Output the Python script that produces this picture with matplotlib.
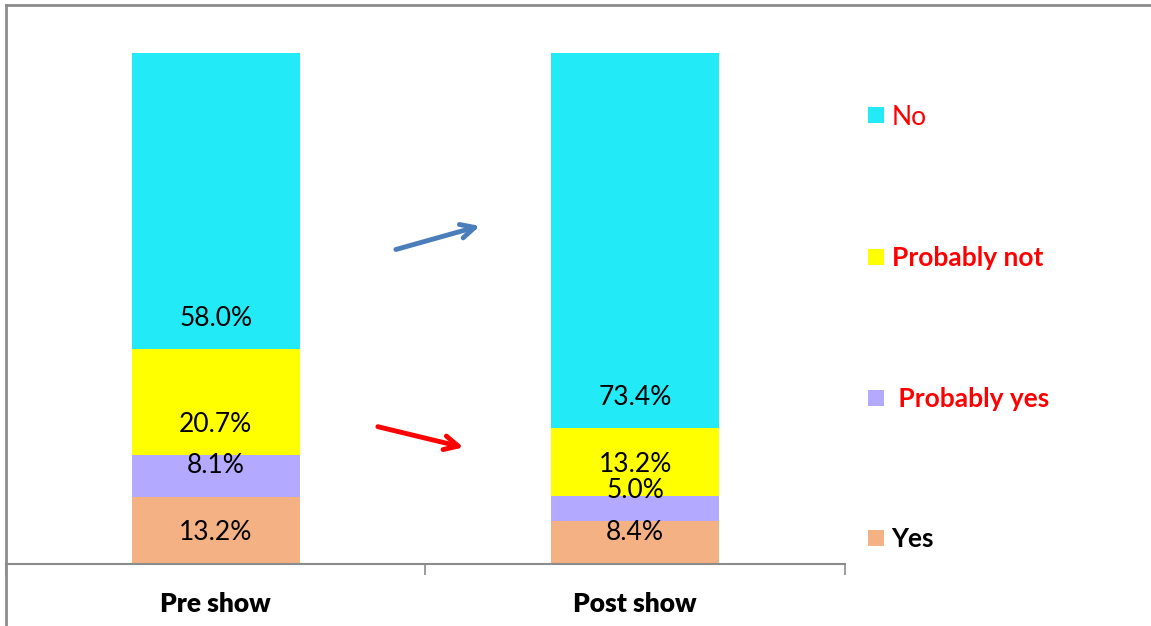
import matplotlib
matplotlib.use("Agg")
import matplotlib.pyplot as plt
from matplotlib.lines import Line2D
import numpy as np

plt.rcParams['font.family'] = ['Lato', 'DejaVu Sans']

groups = ["Pre show", "Post show"]
answers = ["Yes", "Probably yes", "Probably not", "No"]
pre_vals = [13.2, 8.1, 20.7, 58.0]
post_vals = [8.4, 5.0, 13.2, 73.4]
colors = ["#F4B183", "#B3AAFF", "#FFFF00", "#22EAF7"]
legend_labels = ["Yes", " Probably yes", "Probably not", "No"]
legend_colors = ["black", "red", "red", "red"]
legend_weights = ["bold", "bold", "bold", "normal"]

W, H = 1151, 626
fig = plt.figure(figsize=(W / 100, H / 100), dpi=100)
ax = fig.add_axes([6 / W, (H - 564) / H, (845 - 6) / W, (564 - 53) / H])

data = np.array([pre_vals, post_vals])
x = np.arange(len(groups))
bottom = np.zeros(len(groups))
for i, name in enumerate(answers):
    vals = data[:, i]
    ax.bar(x, vals, width=0.40, bottom=bottom, color=colors[i], label=name,
           linewidth=0)
    for xi, b, v in zip(x, bottom, vals):
        ax.annotate(f"{v:.1f}%", xy=(xi, b), xytext=(0, 31),
                    textcoords="offset pixels", ha="center", va="center",
                    fontsize=19, color="black")
    bottom += vals

ax.set_xlim(-0.5, 1.5)
ax.set_ylim(0, 100)
ax.set_xticks([-0.5, 0.5, 1.5])
ax.set_xticklabels([])
ax.set_xticks(x, minor=True)
ax.set_xticklabels(groups, minor=True, fontsize=19, fontweight="heavy")
ax.tick_params(axis="x", which="minor", length=0, pad=20)
ax.tick_params(axis="x", which="major", length=8, color="#8c8c8c", width=1.2)
ax.set_yticks([])
for s in ["top", "right", "left"]:
    ax.spines[s].set_visible(False)
ax.spines["bottom"].set_color("#8c8c8c")
ax.spines["bottom"].set_linewidth(1.5)

# arrows between the bars
ax.annotate("", xy=(0.636, 66.3), xytext=(0.423, 61.4),
            arrowprops=dict(arrowstyle="->,head_length=1.0,head_width=0.5",
                            color="#4A7EBB", lw=3.5))
ax.annotate("", xy=(0.597, 22.7), xytext=(0.380, 27.0),
            arrowprops=dict(arrowstyle="->,head_length=1.0,head_width=0.5",
                            color="#FF0000", lw=3.5))

handles = [Line2D([], [], marker="s", linestyle="none", markersize=11.5,
                  markerfacecolor=c, markeredgewidth=0) for c in colors]
leg = fig.legend(handles[::-1], legend_labels[::-1], loc="upper left",
                 bbox_to_anchor=(856 / W, 1 - 94 / H), frameon=False,
                 fontsize=19, labelspacing=4.42, handlelength=0.7,
                 handletextpad=0.25, borderaxespad=0)
for t, c, wt in zip(leg.get_texts(), legend_colors[::-1], legend_weights[::-1]):
    t.set_color(c)
    t.set_fontweight(wt)

# outer frame (top and left edges)
fig.add_artist(Line2D([6 / W, 1], [1 - 5 / H, 1 - 5 / H], color="#8c8c8c",
                      lw=2, transform=fig.transFigure))
fig.add_artist(Line2D([6 / W, 6 / W], [0, 1 - 5 / H], color="#8c8c8c",
                      lw=2, transform=fig.transFigure))

fig.savefig("out.png", dpi=100)
